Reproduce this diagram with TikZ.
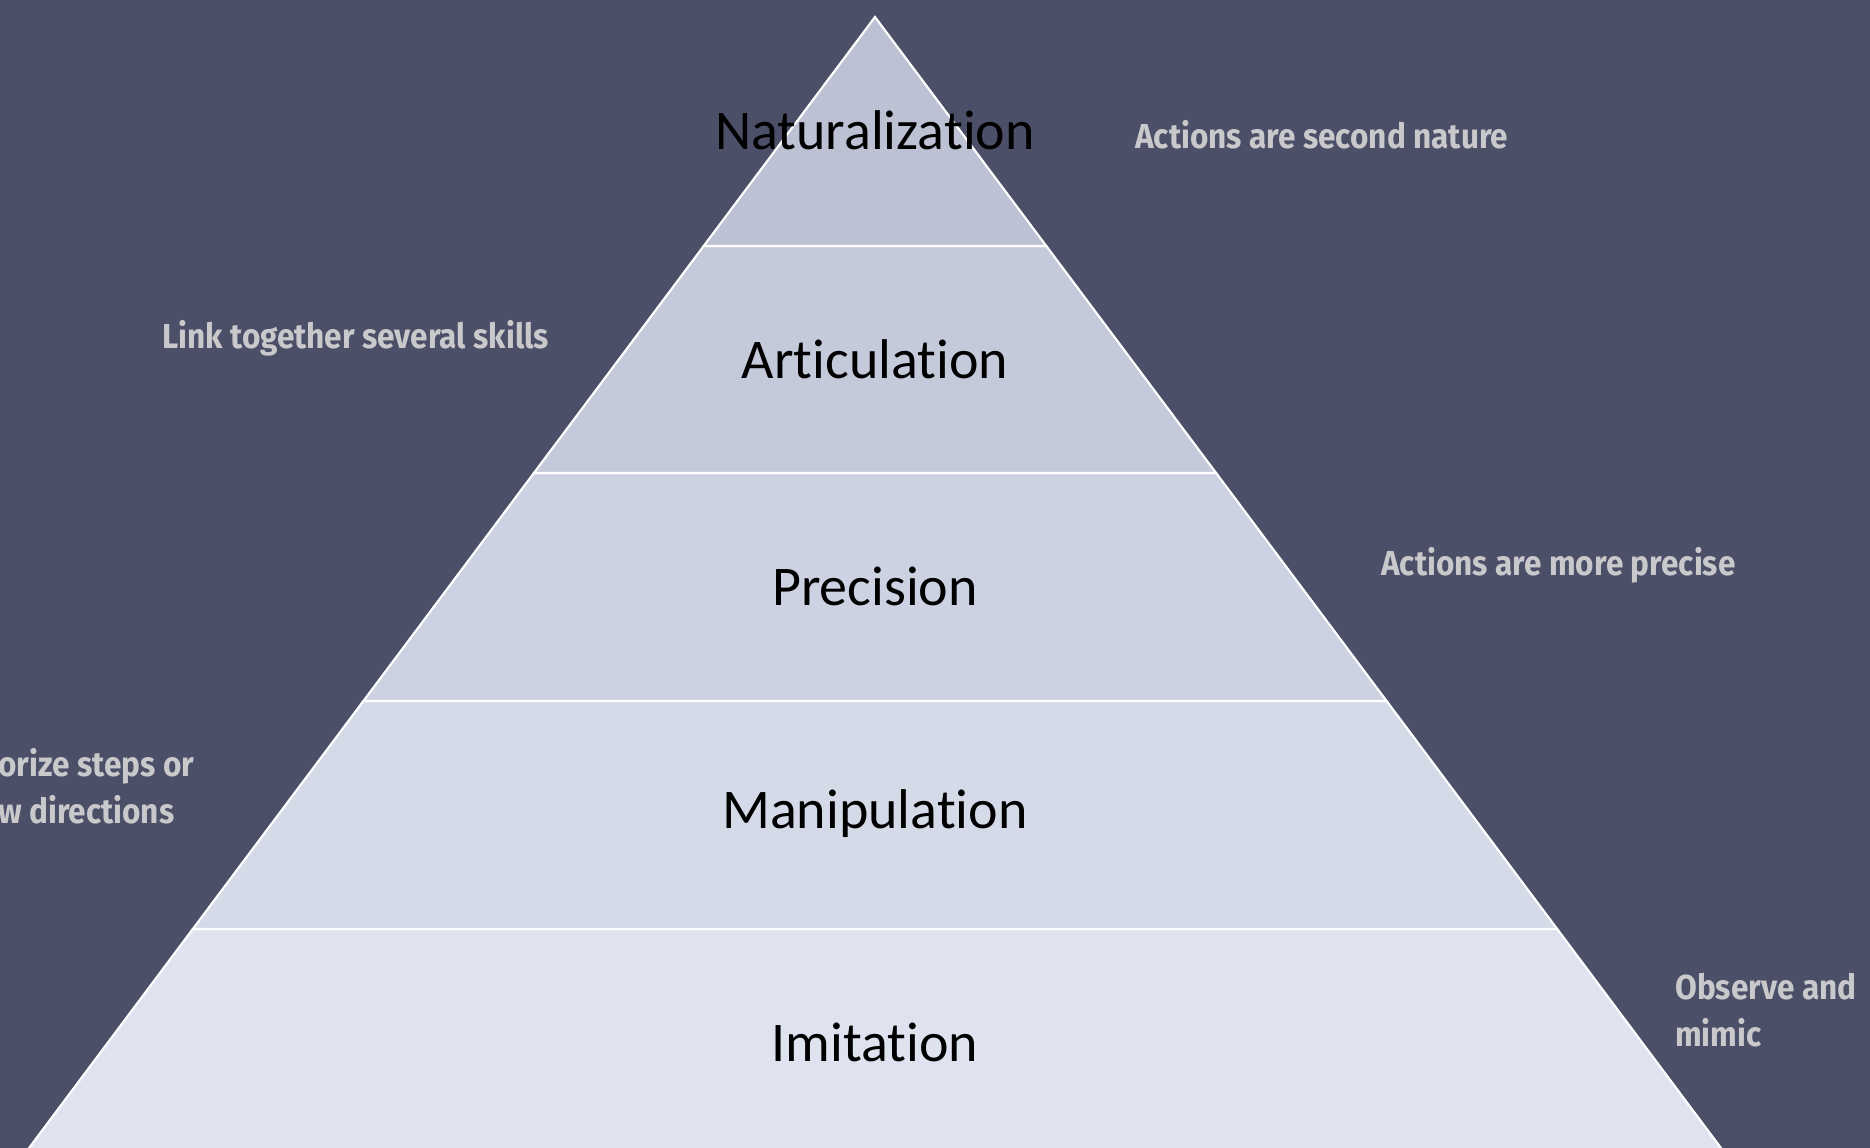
\documentclass[tikz,border=0pt]{standalone}
\usepackage{fontspec}
\setmainfont{Carlito}[Ligatures={NoCommon,NoRequired,NoContextual}]
\newfontfamily\notefont[FakeStretch=0.91]{Fira Sans}
\definecolor{slatebg}{HTML}{4C4F68}
\definecolor{notegray}{HTML}{C9C9CB}
\definecolor{bandA}{HTML}{BCC2D3}
\definecolor{bandB}{HTML}{C4CADA}
\definecolor{bandC}{HTML}{CCD2E2}
\definecolor{bandD}{HTML}{D5DAE8}
\definecolor{bandE}{HTML}{DFE3EF}
\tikzset{
  band/.style={draw=white,line width=1.6pt,line join=miter},
  levellabel/.style={inner sep=0.75pt,text=black,font=\fontsize{42}{50}\selectfont},
  sidenote/.style={anchor=west,inner sep=0.75pt,text=notegray,align=left,font=\notefont\bfseries\fontsize{26}{35}\selectfont}
}
\begin{document}
\begin{tikzpicture}[x=0.75pt,y=0.75pt,yscale=-1,xscale=1]
\useasboundingbox (0,0) rectangle (1870,1148);
\clip (0,0) rectangle (1870,1148);

% Background
\fill[slatebg] (0,0) rectangle (1870,1148);

% Pyramid bands
\draw[band,fill=bandE] (192.8,929) -- (1557.2,929) -- (1727.7,1157) -- (22.3,1157) -- cycle;
\draw[band,fill=bandD] (363.4,701) -- (1386.6,701) -- (1557.2,929) -- (192.8,929) -- cycle;
\draw[band,fill=bandC] (533.9,473) -- (1216.1,473) -- (1386.6,701) -- (363.4,701) -- cycle;
\draw[band,fill=bandB] (703.7,246) -- (1046.3,246) -- (1216.1,473) -- (533.9,473) -- cycle;
\draw[band,fill=bandA] (875,17) -- (1046.3,246) -- (703.7,246) -- cycle;

% Level labels
\node[levellabel] (natural) at (875,130) {Naturalization};
\node[levellabel] (artic) at (875,359) {Articulation};
\node[levellabel] (precis) at (875,586) {Precision};
\node[levellabel] (manip) at (875,814) {Manipulation};
\node[levellabel] (imitat) at (875,1042) {Imitation};

% Side notes
\node[sidenote] (natnote) at (1134,135) {Actions are second nature};
\node[sidenote] (artnote) at (161,338) {Link together several skills};
\node[sidenote] (prenote) at (1380,565) {Actions are more precise};
\node[sidenote] (mannote) at (-3,786) {orize steps or\\w directions};
\node[sidenote] (iminote) at (1674,1010) {Observe and\\mimic};

\end{tikzpicture}
\end{document}
